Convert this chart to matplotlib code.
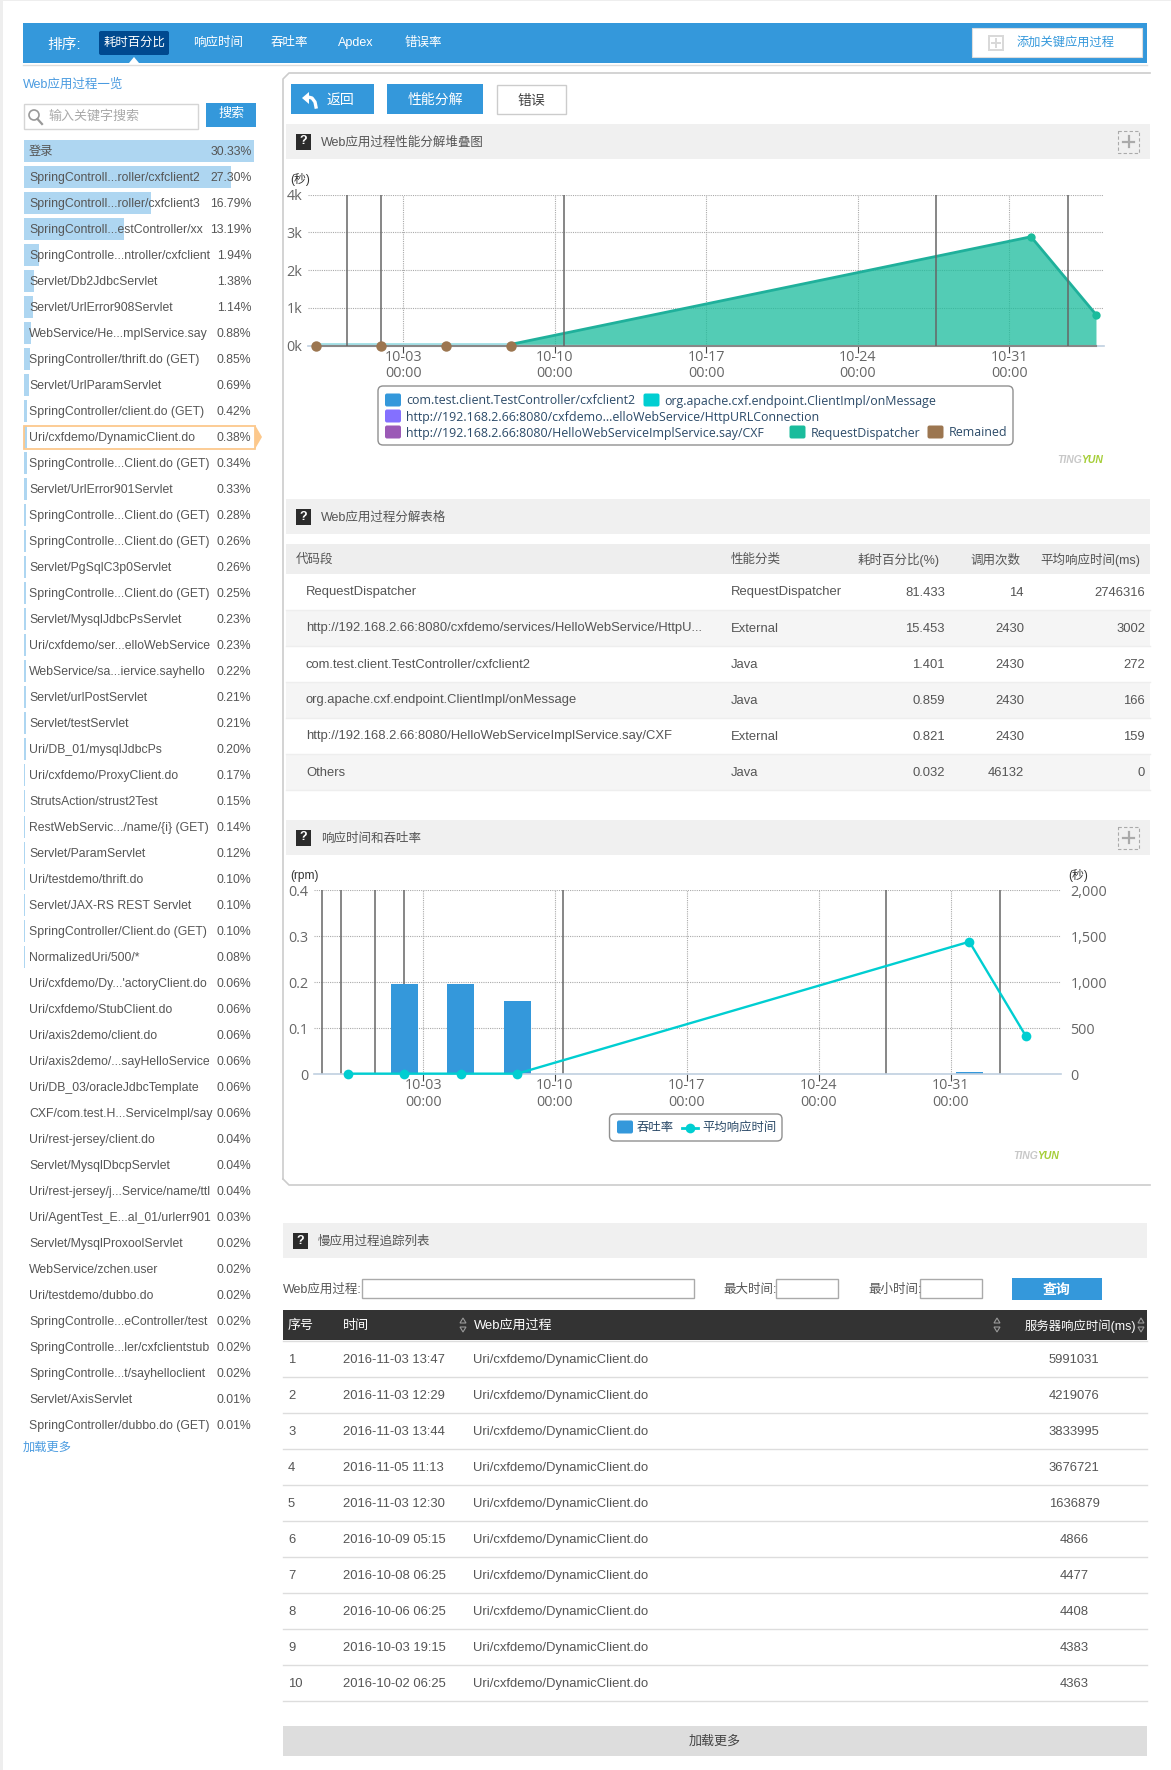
import matplotlib
matplotlib.use('Agg')
import matplotlib.pyplot as plt
import matplotlib.dates as mdates
from matplotlib.patches import Rectangle, FancyBboxPatch, Polygon, Circle

plt.rcParams['font.family'] = ['Liberation Sans', 'Noto Sans CJK SC', 'DejaVu Sans']

W, H = 1171, 1770

# left list
proc_names = ['登录', 'SpringControll...roller/cxfclient2', 'SpringControll...roller/cxfclient3',
              'SpringControll...estController/xx', 'SpringControlle...ntroller/cxfclient',
              'Servlet/Db2JdbcServlet', 'Servlet/UrlError908Servlet', 'WebService/He...mplService.say',
              'SpringController/thrift.do (GET)', 'Servlet/UrlParamServlet', 'SpringController/client.do (GET)',
              'Uri/cxfdemo/DynamicClient.do', 'SpringControlle...Client.do (GET)', 'Servlet/UrlError901Servlet',
              'SpringControlle...Client.do (GET)', 'SpringControlle...Client.do (GET)', 'Servlet/PgSqlC3p0Servlet',
              'SpringControlle...Client.do (GET)', 'Servlet/MysqlJdbcPsServlet', 'Uri/cxfdemo/ser...elloWebService',
              'WebService/sa...iervice.sayhello', 'Servlet/urlPostServlet', 'Servlet/testServlet',
              'Uri/DB_01/mysqlJdbcPs', 'Uri/cxfdemo/ProxyClient.do', 'StrutsAction/strust2Test',
              'RestWebServic.../name/{i} (GET)', 'Servlet/ParamServlet', 'Uri/testdemo/thrift.do',
              'Servlet/JAX-RS REST Servlet', 'SpringController/Client.do (GET)', 'NormalizedUri/500/*',
              "Uri/cxfdemo/Dy...'actoryClient.do", 'Uri/cxfdemo/StubClient.do', 'Uri/axis2demo/client.do',
              'Uri/axis2demo/...sayHelloService', 'Uri/DB_03/oracleJdbcTemplate', 'CXF/com.test.H...ServiceImpl/say',
              'Uri/rest-jersey/client.do', 'Servlet/MysqlDbcpServlet', 'Uri/rest-jersey/j...Service/name/ttl',
              'Uri/AgentTest_E...al_01/urlerr901', 'Servlet/MysqlProxoolServlet', 'WebService/zchen.user',
              'Uri/testdemo/dubbo.do', 'SpringControlle...eController/test', 'SpringControlle...ler/cxfclientstub',
              'SpringControlle...t/sayhelloclient', 'Servlet/AxisServlet', 'SpringController/dubbo.do (GET)']
proc_pct = [30.33, 27.30, 16.79, 13.19, 1.94, 1.38, 1.14, 0.88, 0.85, 0.69, 0.42, 0.38, 0.34, 0.33, 0.28, 0.26,
            0.26, 0.25, 0.23, 0.23, 0.22, 0.21, 0.21, 0.20, 0.17, 0.15, 0.14, 0.12, 0.10, 0.10, 0.10, 0.08,
            0.06, 0.06, 0.06, 0.06, 0.06, 0.06, 0.04, 0.04, 0.04, 0.03, 0.02, 0.02, 0.02, 0.02, 0.02, 0.02,
            0.01, 0.01]
nav_items = ['响应时间', '吞吐率', 'Apdex', '错误率']

# stacked chart, thousands of seconds
dates = ['2016-09-29', '2016-10-02', '2016-10-05', '2016-10-08', '2016-11-01', '2016-11-04']
cxfclient2 = [0.004, 0.004, 0.004, 0.004, 0.004, 0.004]
on_message = [0.03, 0.03, 0.03, 0.03, 0.004, 0.004]
http_conn = [0.002, 0.002, 0.002, 0.002, 0.004, 0.004]
hello_say = [0.002, 0.002, 0.002, 0.002, 0.004, 0.004]
dispatcher = [0, 0, 0, 0, 2.87, 0.81]
stack_series = [cxfclient2, on_message, http_conn, hello_say, dispatcher]
stack_colors = ['#3498db', '#00ced1', '#8470ff', '#9b59b6', '#1abc9c']
remained_dates = ['2016-09-29', '2016-10-02', '2016-10-05', '2016-10-08']
remained = [0, 0, 0, 0]
tick_dates = ['2016-10-03', '2016-10-10', '2016-10-17', '2016-10-24', '2016-10-31']
tick_labels = ['10-03\n00:00', '10-10\n00:00', '10-17\n00:00', '10-24\n00:00', '10-31\n00:00']
events1 = ['2016-09-30 09:36', '2016-10-02 00:00', '2016-10-10 10:48', '2016-10-27 14:24', '2016-11-02 16:48']
stack_yticks = [0, 1, 2, 3, 4]
stack_ylabels = ['0k', '1k', '2k', '3k', '4k']

# response time and throughput
throughput = [0, 0.196, 0.196, 0.159, 0.004, 0]
resp_time = [7, 7, 7, 7, 1441, 416]
events2 = ['2016-09-27 15:20', '2016-09-28 16:00', '2016-09-30 10:30', '2016-10-02 00:00', '2016-10-10 10:48',
           '2016-10-27 14:24', '2016-11-02 15:00']

# breakdown table
bd_header = ['代码段', '性能分类', '耗时百分比(%)', '调用次数', '平均响应时间(ms)']
bd_names = ['RequestDispatcher', 'http://192.168.2.66:8080/cxfdemo/services/HelloWebService/HttpU...',
            'com.test.client.TestController/cxfclient2', 'org.apache.cxf.endpoint.ClientImpl/onMessage',
            'http://192.168.2.66:8080/HelloWebServiceImplService.say/CXF', 'Others']
bd_types = ['RequestDispatcher', 'External', 'Java', 'Java', 'External', 'Java']
bd_pct = ['81.433', '15.453', '1.401', '0.859', '0.821', '0.032']
bd_calls = ['14', '2430', '2430', '2430', '2430', '46132']
bd_avg = ['2746316', '3002', '272', '166', '159', '0']

# slow trace table
slow_times = ['2016-11-03 13:47', '2016-11-03 12:29', '2016-11-03 13:44', '2016-11-05 11:13', '2016-11-03 12:30',
              '2016-10-09 05:15', '2016-10-08 06:25', '2016-10-06 06:25', '2016-10-03 19:15', '2016-10-02 06:25']
slow_ms = [5991031, 4219076, 3833995, 3676721, 1636879, 4866, 4477, 4408, 4383, 4363]
slow_name = 'Uri/cxfdemo/DynamicClient.do'

BLUE = '#3498db'
TXT = '#555555'
LEG = '#2b4a68'
FS = 8.8
TABLE_FS = 9.4
AXIS_FONT = ['Open Sans', 'DejaVu Sans']


def axes_px(l, t, r, b):
    return fig.add_axes([l / W, 1 - b / H, (r - l) / W, (b - t) / H])


def rect(x0, y0, x1, y1, fc, ec='none', lw=0, z=1, **kw):
    ui.add_patch(Rectangle((x0, y0), x1 - x0, y1 - y0, fc=fc, ec=ec, lw=lw, zorder=z, **kw))


def txt(x, y, s, color=TXT, size=FS, ha='left', **kw):
    ui.text(x, y + 1, s, color=color, fontsize=size, ha=ha, va='center', zorder=5, **kw)


def section(x0, x1, y0, y1, title, plus=True):
    rect(x0, y0, x1, y1, '#f0f0f0')
    qx = x0 + 10
    rect(qx, (y0 + y1) / 2 - 8, qx + 15, (y0 + y1) / 2 + 8, '#2b2b2b', z=2)
    txt(qx + 7.5, (y0 + y1) / 2 - 1, '?', color='white', size=9, ha='center', fontweight='bold')
    txt(qx + 25, (y0 + y1) / 2, title, size=9.0)
    if plus:
        m = (y0 + y1) / 2
        rect(1118, m - 11, 1139, m + 11, 'none', ec='#aaaaaa', lw=0.8, z=2, ls=(0, (3, 2)))
        ui.plot([1123, 1134], [m, m], color='#aaaaaa', lw=1.6, zorder=3)
        ui.plot([1128.5, 1128.5], [m - 5.5, m + 5.5], color='#aaaaaa', lw=1.6, zorder=3)


def tingyun(x, y):
    ui.text(x, y, 'YUN', color='#a6ce39', fontsize=7.5, ha='right', va='center', style='italic', fontweight='bold', zorder=5)
    ui.text(x - 21, y, 'TING', color='#c8c8c8', fontsize=7.5, ha='right', va='center', style='italic', fontweight='bold', zorder=5)


def legend_box(x0, y0, x1, y1):
    ui.add_patch(FancyBboxPatch((x0 + 4, y0 + 4), x1 - x0 - 8, y1 - y0 - 8, boxstyle='round,pad=4,rounding_size=5',
                                fc='white', ec='#909090', lw=1, zorder=3))


def swatch(x, y, color, w=16):
    ui.add_patch(FancyBboxPatch((x + 1, y - 5.5), w - 2, 11, boxstyle='round,pad=1,rounding_size=2',
                                fc=color, ec='none', zorder=4))


def style_chart(ax, left_ticks, left_labels, xlim):
    ax.patch.set_alpha(0)
    ax.set_xlim(mdates.datestr2num(xlim[0]), mdates.datestr2num(xlim[1]))
    for s in ['top', 'left', 'right']:
        ax.spines[s].set_visible(False)
    ax.spines['bottom'].set_color('#c0d0e0')
    ax.spines['bottom'].set_linewidth(1.2)
    ax.set_xticks(mdates.datestr2num(tick_dates))
    ax.set_xticklabels(tick_labels, fontsize=10.4, color='#666666', linespacing=1.12, family=AXIS_FONT)
    ax.tick_params(axis='x', length=5, width=0.8, color='#444444', pad=-2)
    ax.tick_params(axis='y', length=0, pad=4)
    ax.set_yticks(left_ticks)
    ax.set_yticklabels(left_labels, fontsize=10.4, color='#666666', family=AXIS_FONT)
    ax.grid(True, color='#aaaaaa', lw=0.8, ls=(0, (1, 1)))
    ax.set_axisbelow(True)


fig = plt.figure(figsize=(W / 100, H / 100), dpi=100, facecolor='white')
ui = fig.add_axes([0, 0, 1, 1])
ui.set_xlim(0, W)
ui.set_ylim(H, 0)
ui.axis('off')

# page edge
rect(0, 0, 3, H, '#eeeeee')
rect(0, 0, W, 1, '#eeeeee')

# nav bar
rect(23, 23, 1147, 63, BLUE)
ui.plot([23, 1147], [65, 65], color='#dddddd', lw=1)
txt(47, 44, '排序:', color='white', size=10.6)
ui.add_patch(FancyBboxPatch((101, 33), 66, 20, boxstyle='round,pad=2,rounding_size=2', fc='#00498f', ec='none', zorder=2))
txt(134, 42, '耗时百分比', color='white', size=8.9, ha='center')
ui.add_patch(Polygon([[129, 63], [134, 57], [139, 63]], fc='white', ec='none', zorder=3))
for x, s in zip([218, 289, 356, 423], nav_items):
    txt(x, 42, s, color='white', size=9.0, ha='center')
rect(972, 28, 1142, 57, 'white', ec='#dddddd', lw=0.8, z=2)
rect(989, 36, 1003, 50, 'white', ec='#d8d8d8', lw=1.4, z=3)
ui.plot([992, 1000], [43, 43], color='#d8d8d8', lw=1.4, zorder=4)
ui.plot([996, 996], [39, 47], color='#d8d8d8', lw=1.4, zorder=4)
txt(1066, 42, '添加关键应用过程', color=BLUE, size=8.8, ha='center')

# panel outline
ui.plot([1150, 289, 283, 283], [73, 73, 79, 1179], color='#cccccc', lw=1.2, zorder=1)
ui.plot([283, 289, 1150], [1179, 1185, 1185], color='#cccccc', lw=1.2, zorder=1)

# left column
txt(23, 84, 'Web应用过程一览', color='#4a9be0', size=9.0)
rect(23.5, 103.5, 197.5, 128.5, 'white', ec='#d5d5d5', lw=1)
ui.add_patch(Circle((34, 115), 5, fc='none', ec='#999999', lw=1.2, zorder=3))
ui.plot([37.5, 42], [119, 124], color='#999999', lw=1.6, zorder=3)
txt(48, 115, '输入关键字搜索', color='#aaaaaa', size=9.4)
rect(206, 103, 256, 127, BLUE)
txt(231, 113, '搜索', color='white', size=9.4, ha='center')

list_ax = axes_px(24, 138, 254, 1438)
list_ax.patch.set_alpha(0)
list_ax.set_xlim(0, max(proc_pct))
list_ax.set_ylim(len(proc_pct) - 0.5, -0.5)
list_ax.axis('off')
list_ax.barh(range(len(proc_pct)), proc_pct, height=22 / 26, color='#aed6f1')
list_ax.set_zorder(1)
ui.set_zorder(2)
ui.patch.set_alpha(0)

rect(23.5, 425.5, 255, 448.5, 'none', ec='#fcc88c', lw=1.3, z=3)
ui.add_patch(Polygon([[255, 425], [262, 437], [255, 449]], fc='#fcc88c', ec='none', zorder=3))
for i, (name, p) in enumerate(zip(proc_names, proc_pct)):
    y = 151 + 26 * i
    txt(29, y, name, size=FS)
    txt(251.5, y, '%.2f%%' % p, size=FS, ha='right')
txt(23, 1447, '加载更多', color='#4a9be0', size=8.8)

# top buttons
rect(291, 84, 374, 114, BLUE)
ui.add_patch(Polygon([[302, 98], [309, 92], [309, 104]], fc='white', ec='none', zorder=5))
ui.plot([308, 312, 315, 316], [97, 98, 102, 107], color='white', lw=2.4, zorder=5)
txt(340, 99, '返回', color='white', size=10, ha='center')
rect(387, 84, 483, 114, BLUE)
txt(435, 99, '性能分解', color='white', size=10, ha='center')
rect(496.5, 84.5, 565.5, 113.5, 'white', ec='#cccccc', lw=1)
txt(531, 100, '错误', size=10, ha='center', color='#444444')

# stacked area chart
section(286, 1150, 124, 159, 'Web应用过程性能分解堆叠图')
txt(290, 178, '(秒)', color='#333333', size=8.6)
ax1 = axes_px(308, 194.7, 1104, 345.7)
style_chart(ax1, stack_yticks, stack_ylabels, ('2016-09-28 14:38', '2016-11-04 08:53'))
ax1.set_ylim(0, 4)
x1 = mdates.datestr2num(dates)
bottom = [0] * len(dates)
for vals, col in zip(stack_series, stack_colors):
    top = [b + v for b, v in zip(bottom, vals)]
    ax1.fill_between(x1, bottom, top, color=col, alpha=0.75, lw=0)
    bottom = top
ax1.plot(x1[3:], bottom[3:], color='#1fb09b', lw=2, zorder=3, solid_capstyle='round')
ax1.plot(x1[:4], bottom[:4], color='#9fdfe5', lw=1.3, zorder=3)
ax1.plot(x1, [0] * len(x1), color='#888888', lw=1.5, zorder=3, clip_on=False)
ax1.vlines(mdates.datestr2num(events1), 0, 4, color='#666666', lw=1.3, alpha=0.85, zorder=4)
ax1.plot(x1[4:], bottom[4:], 'o', color='#1abc9c', ms=6, mew=0, zorder=5, clip_on=False)
ax1.plot(mdates.datestr2num(remained_dates), remained, color='#9c7650', lw=0, marker='o', ms=7.5, mew=0,
         zorder=5, clip_on=False)

legend_box(378, 386, 1013, 445)
legend_rows = [(385, 400, '#3498db', 'com.test.client.TestController/cxfclient2'),
               (643.5, 400, '#00ced1', 'org.apache.cxf.endpoint.ClientImpl/onMessage'),
               (385, 416, '#8470ff', 'http://192.168.2.66:8080/cxfdemo...elloWebService/HttpURLConnection'),
               (385, 432, '#9b59b6', 'http://192.168.2.66:8080/HelloWebServiceImplService.say/CXF'),
               (789.5, 432, '#1abc9c', 'RequestDispatcher'),
               (927.5, 432, '#9c7650', 'Remained')]
for x, y, col, s in legend_rows:
    swatch(x, y, col)
    txt(x + 21, y, s, color=LEG, size=8.95, family=AXIS_FONT)
tingyun(1103, 460)

# breakdown table
section(286, 1150, 499, 534, 'Web应用过程分解表格', plus=False)
rect(286, 544, 1150, 574, '#eeeeee')
txt(296, 559, bd_header[0], size=9)
txt(731, 559, bd_header[1], size=9)
txt(940, 559, bd_header[2], size=9, ha='right')
txt(1020, 559, bd_header[3], size=9, ha='right')
txt(1140, 559, bd_header[4], size=9, ha='right')
for i in range(len(bd_names)):
    y0 = 574 + 36 * i
    if i % 2:
        rect(286, y0, 1150, y0 + 36, '#f5f5f5')
    ui.plot([286, 1150], [y0 + 35.5, y0 + 35.5], color='#eeeeee', lw=1, zorder=2)
    y = y0 + 17.5
    txt(306, y, bd_names[i], size=TABLE_FS)
    txt(731, y, bd_types[i], size=TABLE_FS)
    txt(945, y, bd_pct[i], size=TABLE_FS, ha='right')
    txt(1024, y, bd_calls[i], size=TABLE_FS, ha='right')
    txt(1145, y, bd_avg[i], size=TABLE_FS, ha='right')

# response time / throughput chart
section(286, 1150, 820, 855, '响应时间和吞吐率')
txt(290, 875, '(rpm)', color='#333333', size=8.6)
txt(1068, 875, '(秒)', color='#333333', size=8.6)
ax2 = axes_px(314, 890.3, 1060.7, 1074.3)
style_chart(ax2, [0, 0.1, 0.2, 0.3, 0.4], ['0', '0.1', '0.2', '0.3', '0.4'], ('2016-09-27 05:00', '2016-11-05 20:24'))
ax2.set_ylim(0, 0.4)
ax2.vlines(mdates.datestr2num(events2), 0, 0.4, color='#666666', lw=1.3, alpha=0.85, zorder=1.5)
x2 = mdates.datestr2num(dates)
ax2.bar(x2, throughput, width=1.43, color=BLUE, zorder=2)
ax2r = ax2.twinx()
ax2r.patch.set_alpha(0)
ax2r.set_ylim(0, 2000)
ax2r.set_yticks([0, 500, 1000, 1500, 2000])
ax2r.set_yticklabels(['0', '500', '1,000', '1,500', '2,000'], fontsize=10.4, color='#666666', family=AXIS_FONT)
ax2r.tick_params(axis='y', length=0, pad=7)
for s in ax2r.spines.values():
    s.set_visible(False)
ax2r.plot(x2, resp_time, color='#00ced1', lw=1.7, marker='o', ms=7, mew=0, zorder=5, clip_on=False)

legend_box(609.5, 1114, 782, 1141)
swatch(617, 1127, BLUE)
txt(637, 1127, '吞吐率', color=LEG, size=8.9)
ui.plot([682, 698], [1127.5, 1127.5], color='#00ced1', lw=2, zorder=4)
ui.plot([690], [1127.5], 'o', color='#00ced1', ms=7, mew=0, zorder=4)
txt(702, 1127, '平均响应时间', color=LEG, size=8.9)
tingyun(1059, 1156)

# slow trace table
section(283, 1147, 1223, 1258, '慢应用过程追踪列表', plus=False)
txt(283, 1289, 'Web应用过程:', size=9)
rect(361.5, 1278.5, 693.5, 1297.5, 'white', ec='#aaaaaa', lw=1)
txt(723.5, 1289, '最大时间:', size=9)
rect(775.5, 1278.5, 838, 1297.5, 'white', ec='#aaaaaa', lw=1)
txt(868, 1289, '最小时间:', size=9)
rect(919.5, 1278.5, 981.5, 1297.5, 'white', ec='#aaaaaa', lw=1)
rect(1012, 1278, 1102, 1300, BLUE)
txt(1057, 1289, '查询', color='white', size=10, ha='center', fontweight='bold')

rect(283, 1310, 1147, 1340, '#333333')
txt(288, 1325, '序号', color='white', size=9.4)
txt(343, 1325, '时间', color='white', size=9.4)
txt(474, 1325, 'Web应用过程', color='white', size=9.4)
txt(1136, 1325, '服务器响应时间(ms)', color='white', size=8.9, ha='right')
for sx in [463, 997, 1141]:
    ui.add_patch(Polygon([[sx - 3, 1323], [sx, 1318], [sx + 3, 1323]], fc='none', ec='#999999', lw=0.8, zorder=4))
    ui.add_patch(Polygon([[sx - 3, 1327], [sx, 1332], [sx + 3, 1327]], fc='none', ec='#999999', lw=0.8, zorder=4))
ui.plot([283, 1147], [1341, 1341], color='#dddddd', lw=1)
for i, (t, ms) in enumerate(zip(slow_times, slow_ms)):
    y = 1359 + 36 * i
    txt(288, y, str(i + 1), size=TABLE_FS)
    txt(343, y, t, size=TABLE_FS)
    txt(473, y, slow_name, size=TABLE_FS)
    txt(1074, y, str(ms), size=TABLE_FS, ha='center')
    ui.plot([283, 1147], [y + 17.5, y + 17.5], color='#dddddd', lw=1)
rect(283, 1726, 1147, 1756, '#dddddd')
txt(715, 1741, '加载更多', color='#444444', size=9.4, ha='center')

fig.savefig('out.png', dpi=100)
